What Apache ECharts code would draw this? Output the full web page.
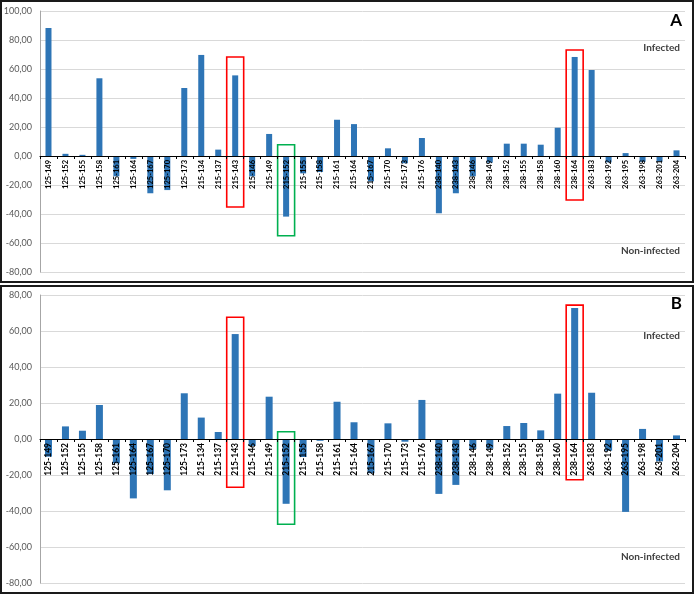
<!DOCTYPE html>
<html><head><meta charset="utf-8">
<script src="https://cdn.jsdelivr.net/npm/echarts@6/dist/echarts.min.js"></script>
<style>html,body{margin:0;padding:0;background:#fff}#c{width:696px;height:595px}</style>
</head><body><div id="c"></div>
<script>
const categories = ['125-149','125-152','125-155','125-158','125-161','125-164','125-167','125-170','125-173','215-134','215-137','215-143','215-146','215-149','215-152','215-155','215-158','215-161','215-164','215-167','215-170','215-173','215-176','238-140','238-143','238-146','238-149','238-152','238-155','238-158','238-160','238-164','263-183','263-192','263-195','263-198','263-201','263-204'];
const valuesA = [88.3,1.5,0.8,53.6,-14,-2,-25.7,-23.5,46.9,69.7,4.4,55.6,-14,15.2,-41.8,-12,-11,25,22,-17.5,5.3,-5,12.4,-39.5,-25.7,-14,-4.6,8.5,8.5,7.8,19.5,68.3,59.3,-4.4,2,-4,-4,3.9];
const valuesB = [-9.8,7,4.6,18.9,-13.5,-33,-19.5,-28.5,25.4,11.9,3.9,58.3,-3.9,23.5,-36,-10,-1,20.7,9.3,-19,8.7,-1.5,21.7,-30.5,-25.5,-5.5,-5.4,7.2,8.9,4.8,25.2,72.8,25.7,-6.5,-40.5,5.6,-12.4,2];
const yTicksA = [-80,-60,-40,-20,0,20,40,60,80,100];
const yTicksB = [-80,-60,-40,-20,0,20,40,60,80];
const boxCats = ['215-143','215-152','238-164'];
const boxColors = ['#ff0000','#00b050','#ff0000'];
const boxTopA = [68.3,7.8,73.1];
const boxBottomA = [-35.2,-55,-30.3];
const boxTopB = [67.6,4,74.4];
const boxBottomB = [-26.8,-47.4,-22.6];

const fmt = v => v.toFixed(2).replace('.', ',');
const FONT = 'Lato, "Open Sans", sans-serif';
const gridA = {left: 40, right: 11, top: 11, height: 261};
const gridB = {left: 40, right: 11, top: 295, height: 288};

function boxes(tops, bottoms) {
  return boxCats.map((c, i) => [
    {xAxis: c, yAxis: tops[i], itemStyle: {color: 'rgba(0,0,0,0)', borderColor: boxColors[i], borderWidth: 1.6}},
    {xAxis: c, yAxis: bottoms[i]}
  ]);
}

function xAxisCfg(gi, fs, grid, ticks) {
  const min = ticks[0], max = ticks[ticks.length - 1];
  const off = -grid.height * (0 - min) / (max - min);
  return {
    type: 'category', gridIndex: gi, data: categories, position: 'bottom', offset: off, z: 5,
    axisLine: {onZero: false, lineStyle: {color: '#000', width: 1}},
    axisTick: {show: true, length: 3, lineStyle: {color: '#000'}},
    axisLabel: {interval: 0, rotate: 90, margin: 4, fontSize: fs, fontWeight: 'bold', color: '#000', fontFamily: FONT},
    splitLine: {show: false}
  };
}
function yAxisCfg(gi, ticks) {
  return {
    type: 'value', gridIndex: gi, min: ticks[0], max: ticks[ticks.length - 1], interval: 20,
    axisLine: {show: true, lineStyle: {color: '#a6a6a6'}},
    axisTick: {show: false},
    axisLabel: {formatter: v => fmt(v), fontSize: 9, color: '#595959', margin: 8, fontFamily: FONT},
    splitLine: {show: true, lineStyle: {color: '#d9d9d9', width: 1}}
  };
}

const chart = echarts.init(document.getElementById('c'), null, {renderer: 'canvas'});
chart.setOption({
  animation: false,
  backgroundColor: '#fff',
  grid: [gridA, gridB],
  xAxis: [xAxisCfg(0, 7.5, gridA, yTicksA), xAxisCfg(1, 8.5, gridB, yTicksB)],
  yAxis: [yAxisCfg(0, yTicksA), yAxisCfg(1, yTicksB)],
  series: [
    {type: 'bar', xAxisIndex: 0, yAxisIndex: 0, data: valuesA, barWidth: 6,
     itemStyle: {color: '#2e75b6'},
     markArea: {silent: true, data: boxes(boxTopA, boxBottomA)}},
    {type: 'bar', xAxisIndex: 1, yAxisIndex: 1, data: valuesB, barWidth: 7,
     itemStyle: {color: '#2e75b6'},
     markArea: {silent: true, data: boxes(boxTopB, boxBottomB)}}
  ],
  graphic: [
    {type: 'rect', shape: {x: 1, y: 1, width: 692, height: 281}, style: {fill: 'none', stroke: '#1a1a1a', lineWidth: 2}, z: 100},
    {type: 'rect', shape: {x: 1, y: 286, width: 692, height: 307}, style: {fill: 'none', stroke: '#1a1a1a', lineWidth: 2}, z: 100},
    {type: 'text', right: 14, top: 12, style: {text: 'A', font: 'bold 17px ' + FONT, fill: '#000'}},
    {type: 'text', right: 16, top: 43, style: {text: 'Infected', font: 'bold 10px ' + FONT, fill: '#404040'}},
    {type: 'text', right: 16, top: 246, style: {text: 'Non-infected', font: 'bold 10px ' + FONT, fill: '#404040'}},
    {type: 'text', right: 14, top: 295, style: {text: 'B', font: 'bold 17px ' + FONT, fill: '#000'}},
    {type: 'text', right: 16, top: 331, style: {text: 'Infected', font: 'bold 10px ' + FONT, fill: '#404040'}},
    {type: 'text', right: 16, top: 552, style: {text: 'Non-infected', font: 'bold 10px ' + FONT, fill: '#404040'}}
  ]
});
</script>
</body></html>
